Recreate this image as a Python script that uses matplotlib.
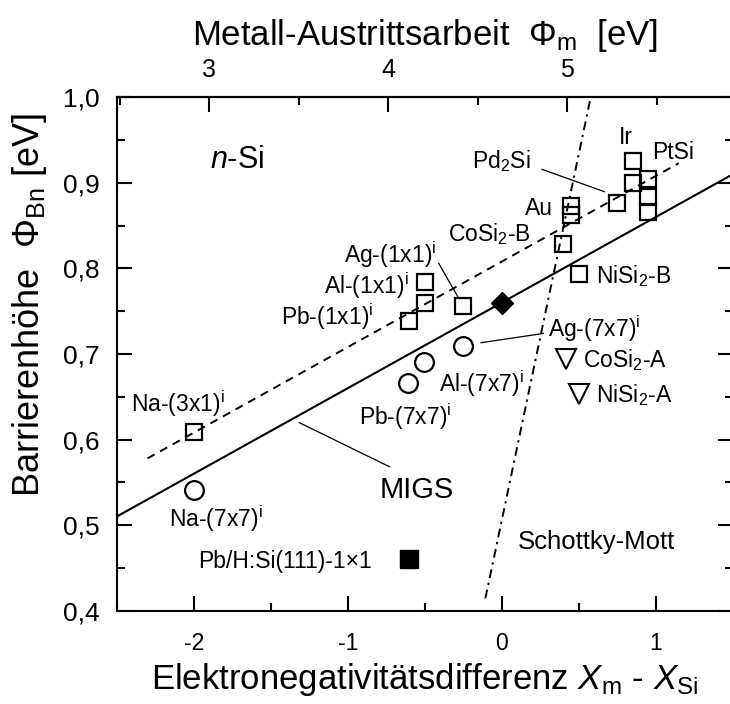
import matplotlib
matplotlib.use("Agg")
import matplotlib.pyplot as plt
from matplotlib.ticker import MultipleLocator, FixedLocator, FuncFormatter

plt.rcParams['font.family'] = ['Liberation Sans', 'DejaVu Sans']
plt.rcParams['mathtext.fontset'] = 'custom'
plt.rcParams['mathtext.rm'] = 'Liberation Sans'
plt.rcParams['mathtext.it'] = 'Liberation Sans:italic'
plt.rcParams['mathtext.bf'] = 'Liberation Sans:bold'

# ---------------- data ----------------
# open squares (Φ_Bn vs electronegativity difference)
sq_x = [-2.0, -0.6, -0.497, -0.497, -0.253, 0.396, 0.45, 0.45, 0.5, 0.747, 0.851, 0.851, 0.953, 0.953, 0.953]
sq_y = [0.609, 0.739, 0.7845, 0.760, 0.756, 0.828, 0.873, 0.862, 0.794, 0.876, 0.9255, 0.8995, 0.9045, 0.883, 0.8663]
# open circles (7x7 reconstructions)
ci_x = [-2.0, -0.61, -0.506, -0.253]
ci_y = [0.541, 0.6665, 0.691, 0.7097]
# open triangles (type A silicides)
tr_x = [0.42, 0.50]
tr_y = [0.694, 0.653]
# filled diamond
di_x = [0.0]
di_y = [0.76]
# filled square Pb/H:Si(111)
fs_x = [-0.6]
fs_y = [0.46]

# lines
migs_x = [-2.5, 1.5]
migs_y = [0.51, 0.91]
fit_x = [-2.3, 1.15]
fit_y = [0.578, 0.923]
sm_x = [-0.106, 0.578]
sm_y = [0.4145, 1.0]

# top axis: metal work function mapping
PHI_REF = 3.0
X_AT_PHI_REF = -1.898
X_PER_EV = 1.1623

# labels: (text, x, y, ha, size)
labels = [
    (r'$\mathit{n}$-Si', -1.897, 0.917, 'left', 22),
    ('Ir', 0.764, 0.9454, 'left', 16.5),
    ('PtSi', 0.977, 0.9284, 'left', 16.5),
    (r'Pd$_2$Si', 0.19, 0.917, 'right', 16.5),
    ('Au', 0.331, 0.8624, 'right', 16.5),
    (r'CoSi$_2$-B', -0.35, 0.8314, 'left', 16.5),
    (r'NiSi$_2$-B', 0.613, 0.7834, 'left', 16.5),
    (r'Ag-(1x1)$^\mathrm{i}$', -1.022, 0.806, 'left', 16.5),
    (r'Al-(1x1)$^\mathrm{i}$', -1.151, 0.770, 'left', 16.5),
    (r'Pb-(1x1)$^\mathrm{i}$', -1.432, 0.734, 'left', 16.5),
    (r'Na-(3x1)$^\mathrm{i}$', -2.407, 0.632, 'left', 16.5),
    (r'Na-(7x7)$^\mathrm{i}$', -2.158, 0.4984, 'left', 16.5),
    (r'Pb-(7x7)$^\mathrm{i}$', -0.924, 0.617, 'left', 16.5),
    (r'Al-(7x7)$^\mathrm{i}$', -0.405, 0.656, 'left', 16.5),
    (r'Ag-(7x7)$^\mathrm{i}$', 0.30, 0.720, 'left', 16.5),
    (r'CoSi$_2$-A', 0.53, 0.685, 'left', 16.5),
    (r'NiSi$_2$-A', 0.61, 0.644, 'left', 16.5),
    ('Pb/H:Si(111)-1\u00d71', -1.974, 0.4504, 'left', 16.5),
    ('Schottky-Mott', 0.103, 0.472, 'left', 18.5),
    ('MIGS', -0.795, 0.5317, 'left', 21),
]

# leader lines: (x0, y0, x1, y1)
leaders = [
    (0.262, 0.9158, 0.667, 0.8897),
    (-0.409, 0.806, -0.279, 0.765),
    (-1.314, 0.6197, -0.729, 0.5683),
    (-0.134, 0.7132, 0.27, 0.724),
]

# ---------------- figure ----------------
W, H = 730, 704
fig = plt.figure(figsize=(W / 100, H / 100), dpi=100)
ax = fig.add_axes([116.7 / W, (H - 610.7) / H, 616.0 / W, 513.4 / H])

ax.set_xlim(-2.5, 1.5)
ax.set_ylim(0.4, 1.0)

lw_ax = 1.5
for s in ax.spines.values():
    s.set_linewidth(lw_ax)

ax.plot(migs_x, migs_y, color='black', lw=1.5, solid_capstyle='butt')
ax.plot(fit_x, fit_y, color='black', lw=1.4, linestyle=(0, (4.2, 3.2)))
ax.plot(sm_x, sm_y, color='black', lw=1.4, linestyle=(0, (4.5, 2.5, 1.2, 2.5)))

for x0, y0, x1, y1 in leaders:
    ax.plot([x0, x1], [y0, y1], color='black', lw=0.9)

ax.plot(sq_x, sq_y, linestyle='none', marker='s', ms=12, mfc='none', mec='black', mew=1.6)
ax.plot(ci_x, ci_y, linestyle='none', marker='o', ms=13.5, mfc='none', mec='black', mew=1.6)
ax.plot(tr_x, tr_y, linestyle='none', marker='v', ms=14, mfc='none', mec='black', mew=1.5)
ax.plot(di_x, di_y, linestyle='none', marker='D', ms=11.5, mfc='black', mec='black', mew=1)
ax.plot(fs_x, fs_y, linestyle='none', marker='s', ms=13, mfc='black', mec='black', mew=1)

for txt, x, y, ha, size in labels:
    ax.text(x, y, txt, ha=ha, va='baseline', fontsize=size)

# ticks
ax.xaxis.set_major_locator(MultipleLocator(1))
ax.xaxis.set_minor_locator(MultipleLocator(0.5))
ax.yaxis.set_major_locator(MultipleLocator(0.1))
ax.yaxis.set_minor_locator(MultipleLocator(0.05))
ax.tick_params(which='both', direction='in', width=1.5, top=False, right=True)
ax.tick_params(which='major', length=11)
ax.tick_params(which='minor', length=6)
ax.tick_params(axis='x', labelsize=16.5, pad=15)
ax.tick_params(axis='y', labelsize=19, pad=12)
ax.yaxis.set_major_formatter(FuncFormatter(lambda v, p: f'{v:.1f}'.replace('.', ',')))
ax.xaxis.set_major_formatter(FuncFormatter(lambda v, p: f'{v:.0f}'))


def x_to_phi(x):
    return PHI_REF + (x - X_AT_PHI_REF) / X_PER_EV


def phi_to_x(p):
    return X_AT_PHI_REF + (p - PHI_REF) * X_PER_EV


sec = ax.secondary_xaxis('top', functions=(x_to_phi, phi_to_x))
sec.xaxis.set_major_locator(FixedLocator([3, 4, 5]))
sec.xaxis.set_minor_locator(FixedLocator([2.5, 3.5, 4.5, 5.5]))
sec.tick_params(which='both', direction='in', width=1.5)
sec.tick_params(which='major', length=11, labelsize=18, pad=11)
sec.tick_params(which='minor', length=6)
sec.spines['top'].set_linewidth(lw_ax)
sec.xaxis.set_major_formatter(FuncFormatter(lambda v, p: f'{v:.0f}'))

# axis titles
fig.text(424.7 / W, 1 - 45 / H, r'Metall-Austrittsarbeit  $\Phi_\mathrm{m}$  [eV]',
         ha='center', va='baseline', fontsize=25)
fig.text(424.7 / W, 1 - 689 / H,
         r'Elektronegativitätsdifferenz $\mathit{X}_\mathrm{m}$ - $\mathit{X}_\mathrm{Si}$',
         ha='center', va='baseline', fontsize=25)
fig.text(30 / W, 1 - 305 / H, r'Barrierenhöhe  $\Phi_\mathrm{Bn}$ [eV]',
         ha='center', va='center', rotation=90, fontsize=26)

fig.savefig('out.png', dpi=100)
